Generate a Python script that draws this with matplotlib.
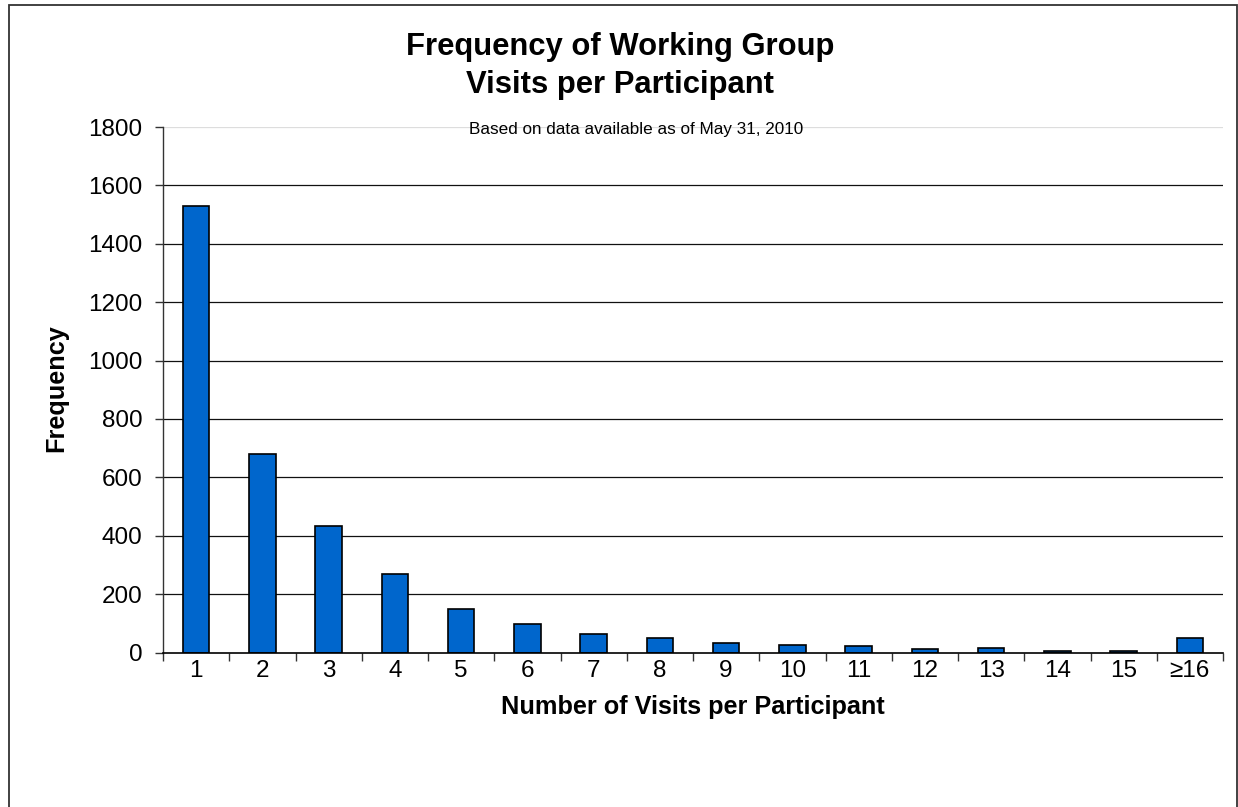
import matplotlib
matplotlib.use("Agg")
import matplotlib.pyplot as plt
from matplotlib.patches import Rectangle
import numpy as np

categories = ["1", "2", "3", "4", "5", "6", "7", "8", "9", "10", "11", "12", "13", "14", "15", "≥16"]
frequency = [1530, 680, 432, 269, 148, 99, 65, 49, 33, 26, 22, 11, 16, 6, 5, 49]
yticks = [0, 200, 400, 600, 800, 1000, 1200, 1400, 1600, 1800]

plt.rcParams['font.family'] = ['Liberation Sans', 'DejaVu Sans']

W, H = 1238, 807
fig = plt.figure(figsize=(W / 100, H / 100), dpi=100)

def fx(px):
    return px / W

def fy(py):
    return 1 - py / H

# outer frame
fig.patches.append(Rectangle((fx(9), fy(812)), fx(1236.5) - fx(9), fy(5) - fy(812),
                             transform=fig.transFigure, fill=False,
                             edgecolor='#333333', linewidth=1.3))

ax = fig.add_axes([fx(163), fy(652.5), fx(1223) - fx(163), fy(127) - fy(652.5)])

x = np.arange(len(categories))
ax.bar(x, frequency, width=0.4, color='#0066CC', edgecolor='black', linewidth=1.2, zorder=3)

ax.set_xlim(-0.5, len(categories) - 0.5)
ax.set_ylim(0, 1800)
ax.set_yticks(yticks)
ax.set_yticklabels([str(v) for v in yticks], fontsize=17.5)

for v in yticks[1:-1]:
    ax.axhline(v, color='#111111', linewidth=0.9, zorder=1)
ax.axhline(1800, color='#dddddd', linewidth=0.9, zorder=1)

# category ticks at boundaries, labels at centers
ax.set_xticks(np.arange(len(categories) + 1) - 0.5)
ax.set_xticklabels([])
ax.set_xticks(x, minor=True)
ax.set_xticklabels(categories, minor=True, fontsize=17.5)
ax.tick_params(axis='x', which='major', direction='out', length=6, width=1, color='#333333')
ax.tick_params(axis='x', which='minor', length=0, pad=5.5)
ax.tick_params(axis='y', direction='out', length=6, width=1, color='#333333', pad=9)

for s in ['top', 'right']:
    ax.spines[s].set_visible(False)
ax.spines['left'].set_color('#333333')
ax.spines['bottom'].set_color('black')
ax.spines['left'].set_linewidth(1)
ax.spines['bottom'].set_linewidth(1.2)
ax.spines['bottom'].set_zorder(4)

fig.text(fx(620), fy(66), "Frequency of Working Group\nVisits per Participant",
         ha='center', va='center', fontsize=22.3, fontweight='bold', linespacing=1.32)
fig.text(fx(636), fy(134), "Based on data available as of May 31, 2010",
         ha='center', va='baseline', fontsize=12.3)
fig.text(fx(693), fy(707), "Number of Visits per Participant",
         ha='center', va='center', fontsize=18.2, fontweight='bold')
fig.text(fx(56), fy(388), "Frequency", rotation=90,
         ha='center', va='center', fontsize=18.2, fontweight='bold')

fig.savefig("out.png", dpi=100)
